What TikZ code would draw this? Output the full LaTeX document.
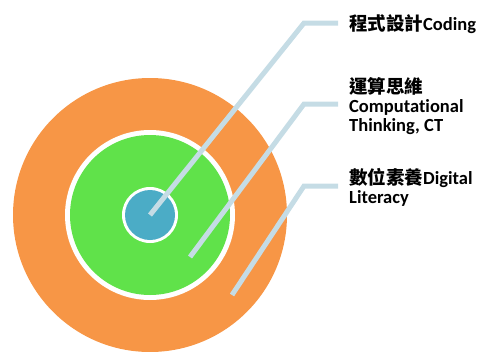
\documentclass[tikz,border=0pt]{standalone}
\usepackage{fontspec}
\setmainfont[Ligatures=NoCommon]{Carlito}
\newfontfamily\cjk{Noto Sans CJK TC}
\definecolor{ringorange}{RGB}{247,150,70}
\definecolor{ringgreen}{RGB}{96,226,74}
\definecolor{ringblue}{RGB}{75,172,198}
\definecolor{leaderblue}{RGB}{197,220,229}
\tikzset{
  leader/.style={leaderblue, line width=5pt},
  label/.style={inner sep=0pt, align=left, font=\fontsize{18.5}{19}\selectfont\bfseries},
}
\begin{document}
\begin{tikzpicture}[x=1pt, y=-1pt]
	  \useasboundingbox (0,0) rectangle (479,351);
	  % rings
	  \fill[ringorange] (150,215) circle (137pt);
	  \fill[white] (150,215) circle (85pt);
	  \fill[ringgreen] (150,215) circle (80pt);
	  \fill[white] (150,215) circle (28pt);
	  \fill[ringblue] (150,215) circle (25pt);
	  % labels (base = last line)
	  \node[label, anchor=base west] (coding) at (349,30) {{\cjk 程式設計}Coding};
	  \node[label, anchor=base west] (ct) at (349,131) {{\cjk 運算思維}\\Computational\\Thinking, CT};
	  \node[label, anchor=base west] (literacy) at (349,203) {{\cjk 數位素養}Digital\\Literacy};
	  % leaders
	  \coordinate (codingend) at (150,215);
	  \coordinate (codingbend) at (304,23);
	  \coordinate (ctend) at (190,257);
	  \coordinate (ctbend) at (304,104);
	  \coordinate (literacyend) at (232,295);
	  \coordinate (literacybend) at (304,186);
	  \draw[leader] (codingend) -- (codingbend) -- ([xshift=-11pt]coding.west |- codingbend);
	  \draw[leader] (ctend) -- (ctbend) -- ([xshift=-11pt]ct.west |- ctbend);
	  \draw[leader] (literacyend) -- (literacybend) -- ([xshift=-11pt]literacy.west |- literacybend);
	\end{tikzpicture}
\end{document}
